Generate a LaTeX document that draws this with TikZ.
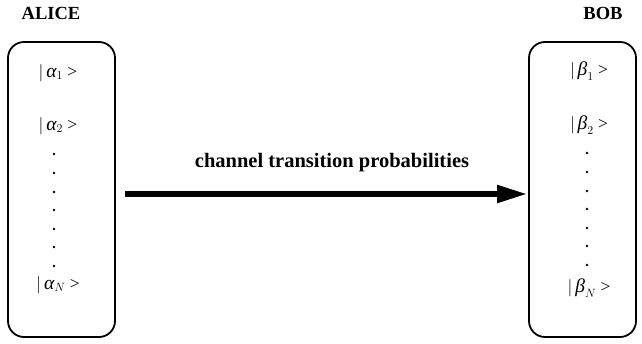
\documentclass[tikz,border=0pt]{standalone}
\usepackage{fontspec}
\setmainfont{Liberation Serif}
\usetikzlibrary{arrows.meta}
\newcommand{\gk}[2]{$|\,\mbox{\itshape\fontsize{19.5}{19.5}\selectfont #1}_{#2}$ >}
\begin{document}
\begin{tikzpicture}[x=1pt,y=-1pt,
  party/.style={draw,line width=1.8pt,rounded corners=16pt,minimum width=107pt,minimum height=295pt,inner sep=0pt},
  title/.style={font=\fontsize{18.5}{18.5}\selectfont\bfseries},
  ket/.style={font=\fontsize{17.5}{17.5}\selectfont,inner sep=0pt},
  dotm/.style={fill,circle,inner sep=0pt,minimum size=2.8pt},
  bigarrow/.style={line width=5.5pt,-{Triangle[length=30pt,width=17pt]}}]
\useasboundingbox (0,0) rectangle (642,343);
\node[party] (alice) at (61.5,189.5) {};
\node[party] (bob) at (582.5,189.5) {};
\node[title] (at) at (51,13) {ALICE};
\node[title] (bt) at (603,13) {BOB};
\node[ket] (a1) at (58,73) {\gk{α}{1}};
\node[ket] (a2) at (58,126) {\gk{α}{2}};
\node[ket] (aN) at (58,285) {\gk{α}{N}};
\node[ket] (b1) at (589,71) {\gk{β}{1}};
\node[ket] (b2) at (589,125) {\gk{β}{2}};
\node[ket] (bN) at (589,288) {\gk{β}{N}};
\foreach \y [count=\i] in {154,173,192,210,229,247,266}{
  \node[dotm] (ad\i) at (54,\y) {};
  \node[dotm] (bd\i) at (587,\y-1) {};
}
\node[font=\fontsize{20.5}{20.5}\selectfont\bfseries] (lab) at (332,163) {channel transition probabilities};
\coordinate (s) at (125,194);
\coordinate (e) at (527,194);
\draw[bigarrow] (s) -- (e);
\end{tikzpicture}
\end{document}
